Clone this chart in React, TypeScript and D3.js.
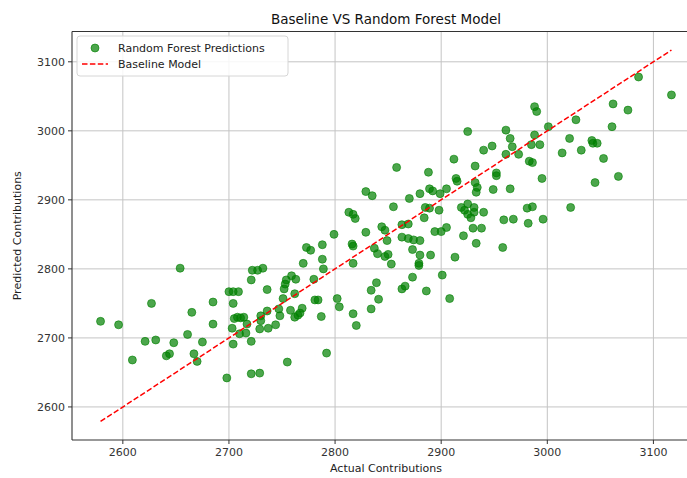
import * as d3 from 'd3';
import React from 'react';

// actual vs predicted contributions
const actual = [
  2579, 2596, 2609, 2621, 2631, 2627, 2654, 2641, 2644, 2648, 2661, 2665, 2667, 2670, 2675,
  2685, 2685, 2698, 2700, 2704, 2709, 2704, 2705, 2708, 2711, 2714, 2703, 2704, 2710, 2716,
  2717, 2721, 2721, 2722, 2727, 2732, 2721, 2729, 2730, 2730, 2729, 2736, 2736, 2737, 2744,
  2747, 2748, 2752, 2753, 2754, 2755, 2758, 2762, 2765, 2767, 2769, 2751, 2762,
  2770, 2773, 2777, 2788, 2788, 2789, 2799, 2780, 2759, 2763, 2781, 2784, 2787, 2792, 2802,
  2804, 2817, 2820, 2813, 2817, 2819, 2829, 2816, 2817, 2817, 2829, 2835, 2844, 2847, 2849,
  2837, 2840, 2850, 2847, 2853, 2855, 2858, 2863, 2869, 2874, 2880, 2863, 2869, 2870, 2873,
  2880, 2890, 2879, 2879, 2884, 2885, 2889, 2888, 2889, 2892, 2880, 2894, 2900, 2905, 2898,
  2899, 2905, 2912, 2914, 2915, 2921, 2930, 2938, 2933, 2913, 2919, 2922, 2925, 2925, 2931,
  2931, 2928, 2925, 2932, 2932, 2934, 2933, 2940, 2940, 2834, 2839, 2841, 2834, 2863, 2866,
  2873, 2886, 2901, 2908, 2958,
  3086, 3117, 3062, 3076, 3027, 3061, 2988, 2990, 3001, 2961, 2965, 2988, 2948, 2967, 2985,
  2993, 2961, 2973, 3021, 3014, 3032, 3042, 3043, 3047, 3053, 2983, 2986, 2952, 2952, 2995,
  3067, 3045, 2949, 2965, 2981, 2986, 3022, 2959, 2968, 2996, 2982,
];

const predicted = [
  2724, 2719, 2668, 2695, 2697, 2750, 2801, 2674, 2677, 2693, 2705, 2737, 2677, 2666, 2694,
  2720, 2752, 2642, 2767, 2767, 2767, 2750, 2728, 2730, 2729, 2730, 2714, 2691, 2706, 2707,
  2720, 2695, 2784, 2798, 2798, 2801, 2648, 2649, 2725, 2732, 2713, 2739, 2770, 2714, 2719,
  2742, 2732, 2771, 2778, 2784, 2665, 2740, 2730, 2733, 2736, 2743, 2757, 2764,
  2808, 2831, 2827, 2835, 2814, 2800, 2850, 2785, 2790, 2785, 2755, 2755, 2731, 2678, 2757,
  2745, 2735, 2718, 2882, 2879, 2873, 2853, 2836, 2833, 2808, 2912, 2906, 2861, 2856, 2841,
  2830, 2822, 2821, 2818, 2807, 2890, 2947, 2846, 2844, 2842, 2841, 2864, 2865, 2902, 2828,
  2820, 2820, 2808, 2805, 2874, 2889, 2888, 2940, 2916, 2913, 2909, 2854, 2854, 2860, 2885,
  2909, 2916, 2959, 2931, 2927, 2848, 2859, 2859, 2837, 2817, 2889, 2885, 2894, 2879, 2889,
  2882, 2874, 2999, 2949, 2925, 2918, 2911, 2972, 2882, 2769, 2780, 2756, 2742, 2771, 2775,
  2788, 2768, 2791, 2757, 2831,
  3078, 3052, 3039, 3030, 3016, 3006, 3035, 3028, 3006, 3001, 2989, 2994, 2978, 2977, 2980,
  2980, 2966, 2966, 2989, 2968, 2972, 2986, 2982, 2982, 2960, 2956, 2954, 2939, 2935, 2931,
  2934, 2925, 2915, 2916, 2888, 2890, 2889, 2871, 2872, 2872, 2866,
];

const xTicks = [2600, 2700, 2800, 2900, 3000, 3100];
const yTicks = [2600, 2700, 2800, 2900, 3000, 3100];

const title = 'Baseline VS Random Forest Model';
const xLabel = 'Actual Contributions';
const yLabel = 'Predicted Contributions';
const legendLabels = ['Random Forest Predictions', 'Baseline Model'];

const W = 687;
const H = 478;
const margin = { top: 31.5, right: -13, bottom: 38, left: 72 };
const font = 'DejaVu Sans, sans-serif';

export default function App() {
  const [lo, hi] = d3.extent(actual) as [number, number];
  const pad = (hi - lo) * 0.05;
  const domain = [lo - pad, hi + pad];

  const x = d3.scaleLinear().domain(domain).range([margin.left, W - margin.right]);
  const y = d3.scaleLinear().domain(domain).range([H - margin.bottom, margin.top]);

  const left = margin.left;
  const right = W - margin.right;
  const top = margin.top;
  const bottom = H - margin.bottom;
  const cx = (left + right) / 2;

  const baseline = d3.line<number>().x(d => x(d)).y(d => y(d))([lo, hi]) || '';

  return (
    <svg
      width={W}
      height={H}
      style={{ position: 'absolute', left: 0, top: 0, background: '#fff' }}
      fontFamily={font}
    >
      <defs>
        <clipPath id="plot">
          <rect x={left} y={top} width={right - left} height={bottom - top} />
        </clipPath>
      </defs>

      {/* grid */}
      <g stroke="#c4c4c4" strokeWidth={1}>
        {xTicks.map(t => (
          <line key={'gx' + t} x1={x(t)} x2={x(t)} y1={top} y2={bottom} />
        ))}
        {yTicks.map(t => (
          <line key={'gy' + t} x1={left} x2={right} y1={y(t)} y2={y(t)} />
        ))}
      </g>

      {/* points */}
      <g clipPath="url(#plot)">
        {actual.map((a, i) => (
          <circle
            key={i}
            cx={x(a)}
            cy={y(predicted[i])}
            r={4}
            fill="green"
            fillOpacity={0.7}
            stroke="green"
            strokeOpacity={0.75}
            strokeWidth={0.8}
          />
        ))}
        <path d={baseline} fill="none" stroke="red" strokeWidth={1.5} strokeDasharray="5.5,2.4" />
      </g>

      {/* spines */}
      <g stroke="#333" strokeWidth={1.1} fill="none">
        <line x1={left} x2={left} y1={top} y2={bottom} />
        <line x1={left} x2={right} y1={bottom} y2={bottom} />
        <line x1={left} x2={right} y1={top} y2={top} />
      </g>

      {/* x axis */}
      <g fontSize={11} fill="#333" textAnchor="middle">
        {xTicks.map(t => (
          <g key={'xt' + t}>
            <line x1={x(t)} x2={x(t)} y1={bottom} y2={bottom + 4} stroke="#333" />
            <text x={x(t)} y={bottom + 16}>{t}</text>
          </g>
        ))}
      </g>

      {/* y axis */}
      <g fontSize={11} fill="#333" textAnchor="end">
        {yTicks.map(t => (
          <g key={'yt' + t}>
            <line x1={left - 4} x2={left} y1={y(t)} y2={y(t)} stroke="#333" />
            <text x={left - 7} y={y(t) + 4}>{t}</text>
          </g>
        ))}
      </g>

      <text x={cx} y={472} fontSize={11} textAnchor="middle" fill="#222">{xLabel}</text>
      <text
        transform={`translate(21,${(top + bottom) / 2}) rotate(-90)`}
        fontSize={11}
        textAnchor="middle"
        fill="#222"
      >
        {yLabel}
      </text>
      <text x={cx} y={24} fontSize={13.5} textAnchor="middle" fill="#111">{title}</text>

      {/* legend */}
      <g>
        <rect x={77} y={36} width={211} height={40} rx={3} fill="#fff" fillOpacity={0.85} stroke="#d6d6d6" />
        <circle cx={95} cy={48} r={4} fill="green" fillOpacity={0.7} stroke="green" strokeOpacity={0.75} strokeWidth={0.8} />
        <text x={118} y={52} fontSize={11} fill="#222">{legendLabels[0]}</text>
        <line x1={82} x2={108} y1={64} y2={64} stroke="red" strokeWidth={1.5} strokeDasharray="5.5,2.4" />
        <text x={118} y={68} fontSize={11} fill="#222">{legendLabels[1]}</text>
      </g>
    </svg>
  );
}
